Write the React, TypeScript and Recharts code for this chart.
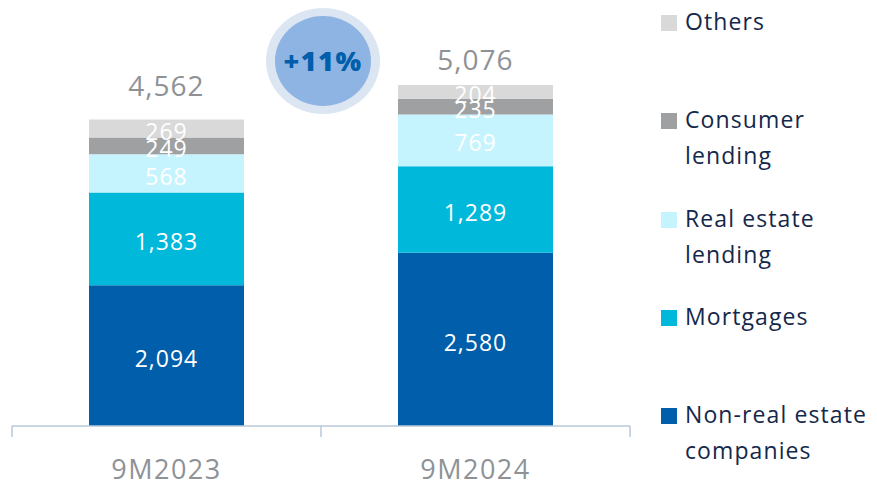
import { BarChart, Bar, XAxis, YAxis, LabelList } from "recharts";

const periods = ["9M2023", "9M2024"];
const nonRealEstate = [2094, 2580];
const mortgages = [1383, 1289];
const realEstateLending = [568, 769];
const consumerLending = [249, 235];
const others = [269, 204];
const totals = [4562, 5076];
const growth = "+11%";

const FONT = "'Open Sans', sans-serif";

// bottom to top stacking order
const series = [
  { key: "nonRealEstate", label: ["Non-real estate", "companies"], color: "#005EAA" },
  { key: "mortgages", label: ["Mortgages"], color: "#00B8DA" },
  { key: "realEstateLending", label: ["Real estate", "lending"], color: "#C5F4FF" },
  { key: "consumerLending", label: ["Consumer", "lending"], color: "#9EA0A1" },
  { key: "others", label: ["Others"], color: "#D9D9D9" },
];

const data = periods.map((period, i) => ({
  period,
  pos: i + 0.5,
  nonRealEstate: nonRealEstate[i],
  mortgages: mortgages[i],
  realEstateLending: realEstateLending[i],
  consumerLending: consumerLending[i],
  others: others[i],
  total: totals[i],
}));

const fmt = (v: any) => Number(v).toLocaleString("en-US");

// baseline gap of the total label above the bar top, per bar
const totalGap = [24, 15];

function TotalLabel(props: any) {
  const { x, y, width, value, index } = props;
  return (
    <text
      x={x + width / 2}
      y={y - totalGap[index]}
      textAnchor="middle"
      fill="#8E9296"
      fontSize={28}
      letterSpacing={1}
      fontFamily={FONT}
    >
      {fmt(value)}
    </text>
  );
}

function FrameTick(props: any) {
  const { x, y, payload } = props;
  const v = payload.value;
  if (Number.isInteger(v)) {
    return <line x1={x} x2={x} y1={y - 11} y2={y} stroke="#B8C8DA" strokeWidth={1.5} />;
  }
  return (
    <text
      x={x}
      y={y + 42}
      textAnchor="middle"
      fill="#8E9296"
      fontSize={27}
      letterSpacing={1.5}
      fontFamily={FONT}
    >
      {periods[Math.floor(v)]}
    </text>
  );
}

export default function App() {
  const legendItems = [...series].reverse();
  return (
    <div style={{ position: "absolute", left: 0, top: 0, width: 877, height: 483, background: "#fff" }}>
      <BarChart
        width={877}
        height={483}
        data={data}
        margin={{ top: 23, right: 247, left: 12, bottom: 0 }}
      >
        <XAxis xAxisId="cat" dataKey="period" hide height={0} />
        <XAxis
          xAxisId="frame"
          dataKey="pos"
          type="number"
          domain={[0, 2]}
          allowDataOverflow
          ticks={[0, 0.5, 1, 1.5, 2]}
          interval={0}
          height={57}
          tickSize={11}
          tickMargin={0}
          tickLine={false}
          axisLine={{ stroke: "#B8C8DA", strokeWidth: 1.5 }}
          tick={<FrameTick />}
        />
        <YAxis hide domain={[0, 6000]} />
        {series.map((s, idx) => (
          <Bar
            key={s.key}
            xAxisId="cat"
            dataKey={s.key}
            stackId="a"
            fill={s.color}
            barSize={155}
            isAnimationActive={false}
          >
            <LabelList
              dataKey={s.key}
              position="center"
              fill="#FFFFFF"
              fontSize={23}
              letterSpacing={1}
              fontFamily={FONT}
              dy={3}
              formatter={fmt}
            />
            {idx === series.length - 1 && <LabelList dataKey="total" content={<TotalLabel />} />}
          </Bar>
        ))}
      </BarChart>

      <svg width={877} height={483} style={{ position: "absolute", left: 0, top: 0, pointerEvents: "none" }}>
        <ellipse cx={323} cy={61} rx={57} ry={53} fill="#DCE6F2" />
        <ellipse cx={323} cy={61} rx={48} ry={45} fill="#8DB4E2" />
        <text
          x={323}
          y={71}
          textAnchor="middle"
          fill="#005EAA"
          fontSize={27}
          fontWeight={800}
          letterSpacing={1.5}
          fontFamily={FONT}
        >
          {growth}
        </text>
      </svg>

      <div style={{ position: "absolute", left: 0, top: 0, fontFamily: FONT, color: "#14284B" }}>
        {legendItems.map((s, i) => (
          <div key={s.key} style={{ position: "absolute", left: 661, top: 3 + i * 98.3, width: 216 }}>
            <div
              style={{ position: "absolute", left: 0, top: 12, width: 16, height: 16, background: s.color }}
            />
            <div
              style={{
                position: "absolute",
                left: 24,
                top: 0,
                fontSize: 23,
                letterSpacing: 1.1,
                lineHeight: "36px",
                whiteSpace: "nowrap",
              }}
            >
              {s.label.map((l) => (
                <div key={l}>{l}</div>
              ))}
            </div>
          </div>
        ))}
      </div>
    </div>
  );
}
